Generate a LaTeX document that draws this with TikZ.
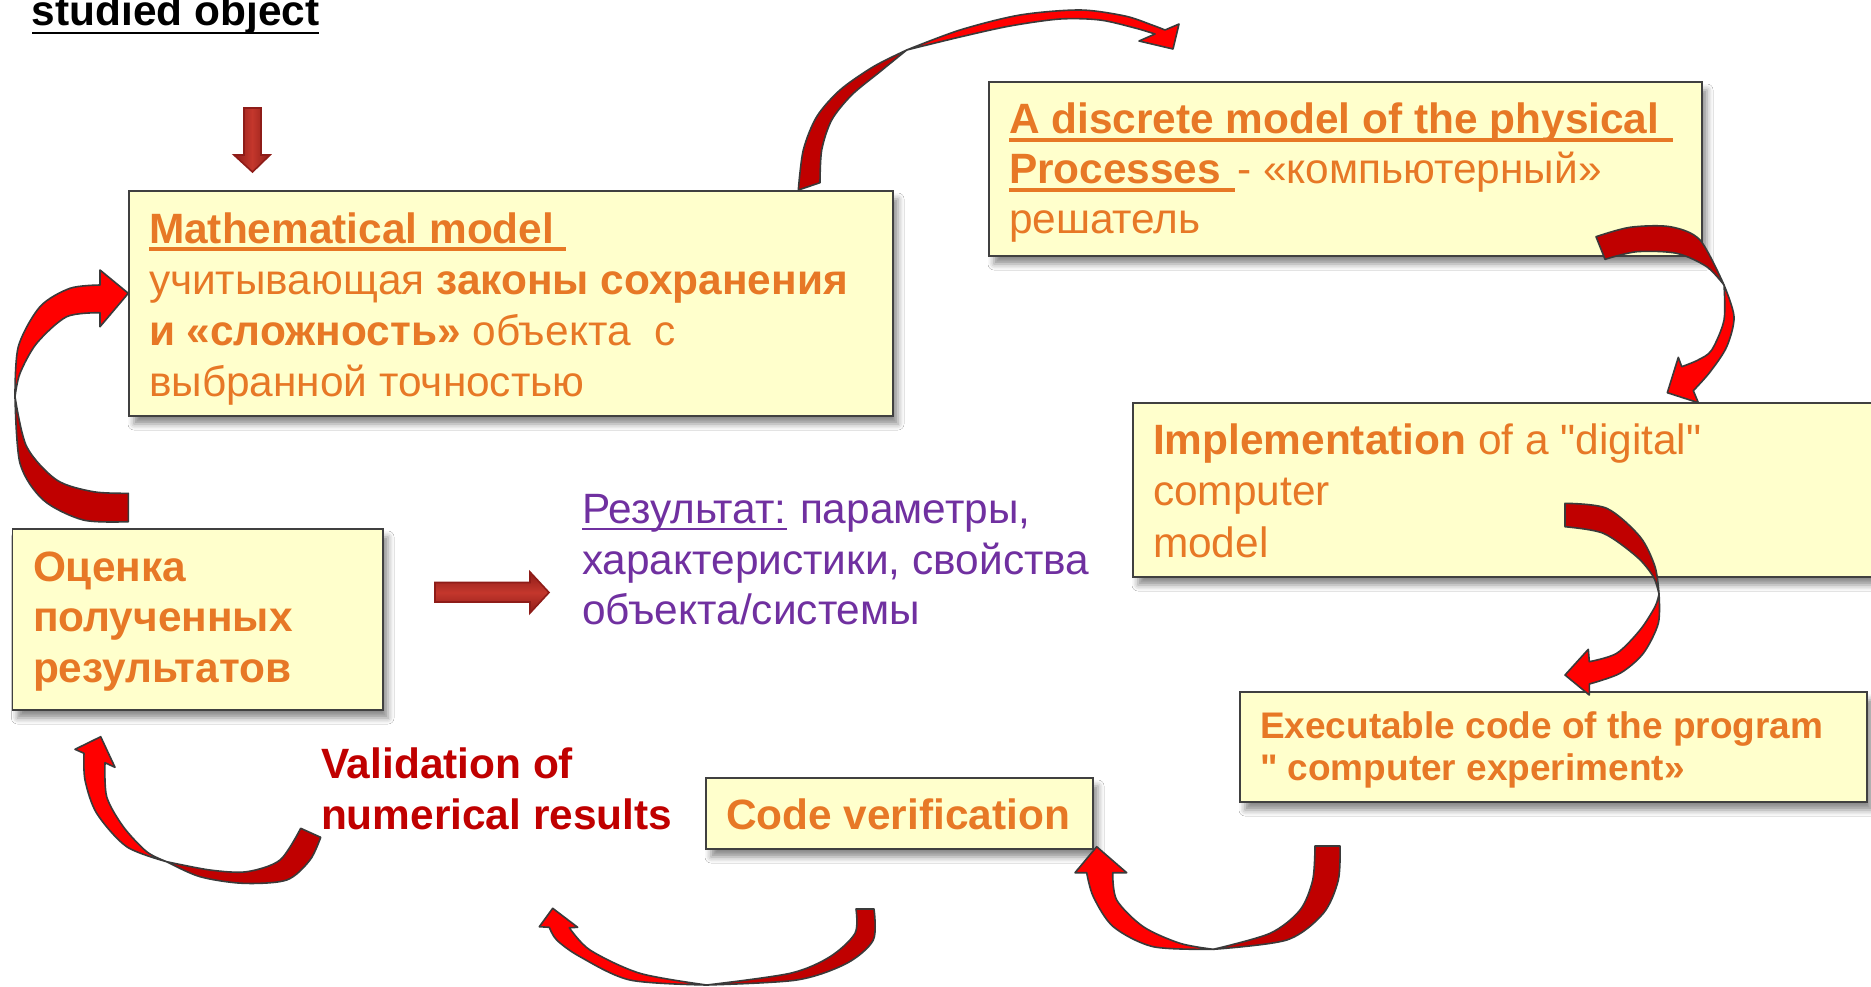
\documentclass[tikz,border=0pt]{standalone}
\usepackage{fontspec}
\setmainfont{Liberation Sans}[Ligatures=TeXOff]
\usetikzlibrary{fit,shadows.blur}
\definecolor{boxfill}{HTML}{FFFFCC}
\definecolor{boxline}{HTML}{404040}
\definecolor{txtor}{HTML}{E77826}
\definecolor{txtpu}{HTML}{7030A0}
\definecolor{txtrd}{HTML}{C00000}
\definecolor{arlight}{HTML}{FF0000}
\definecolor{ardark}{HTML}{C00000}
\definecolor{arline}{HTML}{3A3A3A}
\definecolor{blkdark}{HTML}{8E1C18}
\definecolor{blklight}{HTML}{C4372C}
\begin{document}
\begin{tikzpicture}[x=0.5pt,y=-0.5pt,
  box/.style={draw=boxline, line width=0.9pt, fill=boxfill, inner sep=0pt,
    blur shadow={shadow xshift=2.5pt, shadow yshift=-4pt, shadow blur radius=3pt, shadow opacity=45}},
  big/.style={font=\fontsize{21.2pt}{25.5pt}\selectfont},
  small/.style={font=\fontsize{18.5pt}{21pt}\selectfont\bfseries},
  txt/.style={anchor=base west, inner sep=0pt, outer sep=0pt, big, text=txtor},
  ardk/.style={fill=ardark, draw=arline, line width=0.8pt, line join=round},
  arlt/.style={fill=arlight, draw=arline, line width=0.8pt, line join=round},
  blk/.style={draw=blkdark, line width=0.8pt},
]
\useasboundingbox (0,0) rectangle (1871,986);
\fill[white] (0,0) rectangle (1871,986);

% ---------- boxes ----------
\node[box, fit={(129,191) (893,416)}] (mathbox) {};
\node[box, fit={(989,82) (1702,256)}] (discbox) {};
\node[box, fit={(1133,403) (1895,577)}] (implbox) {};
\node[box, fit={(1240,692) (1867,802)}] (execbox) {};
\node[box, fit={(12.5,529) (383,710)}] (evalbox) {};
\node[box, fit={(706,778) (1093,849)}] (verbox) {};

% ---------- title ----------
\node[txt, text=black, font=\fontsize{21.2pt}{25.5pt}\selectfont\bfseries] (title) at (32,25) {studied object};
\draw[black, line width=1.3pt] ([yshift=-4pt]title.base west) -- ([yshift=-4pt]title.base east);

% ---------- block arrows ----------
\path[blk, shade, left color=blkdark, right color=blkdark, middle color=blklight]
  (244,108) -- (261,108) -- (261,155) -- (270,155) -- (252.5,172) -- (234,155) -- (244,155) -- cycle;
\path[blk, shade, top color=blkdark, bottom color=blkdark, middle color=blklight]
  (435,582.5) -- (530,582.5) -- (530,572) -- (549,592.5) -- (530,613) -- (530,602) -- (435,602) -- cycle;

% ---------- texts: math model ----------
\node[txt, font=\fontsize{21.2pt}{25.5pt}\selectfont\bfseries] (m1) at (149,243) {Mathematical model};
\draw[txtor, line width=1.7pt] ([yshift=-3pt]m1.base west) -- ([xshift=6pt,yshift=-3pt]m1.base east);
\node[txt] (m2) at (149,294) {учитывающая \textbf{законы сохранения}};
\node[txt] (m3) at (149,345) {\textbf{и «сложность»} объекта\ \ с};
\node[txt] (m4) at (149,396) {выбранной точностью};

% ---------- discrete model ----------
\node[txt, font=\fontsize{21.2pt}{25.5pt}\selectfont\bfseries] (d1) at (1009,133) {A discrete model of the physical};
\draw[txtor, line width=1.7pt] ([yshift=-3.5pt]d1.base west) -- ([xshift=7pt,yshift=-3.5pt]d1.base east);
\node[txt, font=\fontsize{21.2pt}{25.5pt}\selectfont\bfseries] (d2a) at (1009,183) {Processes};
\draw[txtor, line width=1.7pt] ([yshift=-3.5pt]d2a.base west) -- ([xshift=7pt,yshift=-3.5pt]d2a.base east);
\node[txt, anchor=base west] (d2b) at ([xshift=8pt]d2a.base east) {- «компьютерный»};
\node[txt] (d3) at (1009,233) {решатель};

% ---------- implementation ----------
\node[txt] (i1) at (1153,454) {\textbf{Implementation} of a "digital"};
\node[txt] (i2) at (1153,505) {computer};
\node[txt] (i3) at (1153,557) {model};

% ---------- executable ----------
\node[txt, small] (e1) at (1260,738) {Executable code of the program};
\node[txt, small] (e2) at (1260,780) {" computer experiment»};

% ---------- evaluation ----------
\node[txt, font=\fontsize{21.2pt}{25.5pt}\selectfont\bfseries] (o1) at (33,581) {Оценка};
\node[txt, font=\fontsize{21.2pt}{25.5pt}\selectfont\bfseries] (o2) at (33,631) {полученных};
\node[txt, font=\fontsize{21.2pt}{25.5pt}\selectfont\bfseries] (o3) at (33,682) {результатов};

% ---------- result ----------
\node[txt, text=txtpu] (r1a) at (582,523) {Результат:};
\draw[txtpu, line width=1pt] ([yshift=-3pt]r1a.base west) -- ([yshift=-3pt]r1a.base east);
\node[txt, text=txtpu] (r1b) at (800,523) {параметры,};
\node[txt, text=txtpu] (r2) at (582,574) {характеристики, свойства};
\node[txt, text=txtpu] (r3) at (582,624) {объекта/системы};

% ---------- validation ----------
\node[txt, text=txtrd, font=\fontsize{21.2pt}{25.5pt}\selectfont\bfseries] (v1) at (321,778) {Validation of};
\node[txt, text=txtrd, font=\fontsize{21.2pt}{25.5pt}\selectfont\bfseries] (v2) at (321,829) {numerical results};

% ---------- code verification ----------
\node[txt, font=\fontsize{21.2pt}{25.5pt}\selectfont\bfseries] (c1) at (726,829) {Code verification};

% ---------- curved arrows ----------
% 1: math model -> discrete model
\path[ardk] plot[smooth] coordinates {(798.3,190) (803.3,150) (816.7,116.7) (840,90) (873.3,66.7) (906.7,50)}
  -- plot[smooth] coordinates {(906.7,50) (880,71.7) (851.7,95) (831.7,120) (821.7,150) (820,182.7)} -- cycle;
\path[arlt] plot[smooth] coordinates {(906.7,50) (960,30) (1020,15) (1080,10) (1125,16) (1152,25) (1165,30)}
  -- (1179,24) -- (1173,49) -- (1139,41) -- (1155,34)
  -- plot[smooth] coordinates {(1155,34) (1135,28) (1100,20) (1060,19) (1010,26) (960,37) (906.7,50)} -- cycle;

% 2: discrete -> implementation
\path[ardk] plot[smooth] coordinates {(1596,236.7) (1630,227.3) (1670,226.7) (1700,240) (1724,285)}
  -- plot[smooth] coordinates {(1724,285) (1706.7,266.7) (1676.7,253.3) (1636.7,251.7) (1605,259.3)} -- cycle;
\path[arlt] plot[smooth] coordinates {(1724,285) (1734,316.7) (1726.7,346.7) (1710,372) (1693.3,390.7)}
  -- (1698.3,402.7) -- (1667.3,392.7) -- (1678.3,357.3) -- (1681.7,366.7)
  -- plot[smooth] coordinates {(1681.7,366.7) (1698,360) (1711.7,350) (1724,320) (1724,285)} -- cycle;

% 3: implementation -> executable
\path[ardk] plot[smooth] coordinates {(1565,503.3) (1606.7,508.3) (1640,536.7) (1655,566.7) (1659,594)}
  -- plot[smooth] coordinates {(1659,594) (1653.3,576.7) (1636.7,556.7) (1603.3,533.3) (1565,526.7)} -- cycle;
\path[arlt] plot[smooth] coordinates {(1659,594) (1658.3,623.3) (1643.3,653.3) (1620,673.3) (1589.3,684)}
  -- (1589.3,695) -- (1565,675) -- (1588.3,649.3) -- (1589.3,661.7)
  -- plot[smooth] coordinates {(1589.3,661.7) (1616.7,653.3) (1640,630) (1655,606.7) (1659,594)} -- cycle;

% 4: executable -> code verification
\path[ardk] plot[smooth] coordinates {(1340,846) (1338.3,880) (1323.3,913.3) (1286.7,940) (1213.3,949.3)}
  -- plot[smooth] coordinates {(1213.3,949.3) (1270,933.3) (1300,910) (1312.7,880) (1315,846)} -- cycle;
\path[arlt] plot[smooth] coordinates {(1213.3,949.3) (1153.3,946.7) (1113.3,926.7) (1093.3,896.7) (1086.7,872.7)}
  -- (1075,872.7) -- (1096.7,846.7) -- (1126.7,872.7) -- (1112.7,872.7)
  -- plot[smooth] coordinates {(1112.7,872.7) (1116.7,900) (1143.3,926.7) (1180,943.3) (1213.3,949.3)} -- cycle;

% 5: bottom middle
\path[ardk] plot[smooth] coordinates {(874,909) (873.3,940) (846.7,963.3) (796.7,980) (706.7,985)}
  -- plot[smooth] coordinates {(706.7,985) (790,973.3) (830,956.7) (855,933.3) (856,909)} -- cycle;
\path[arlt] plot[smooth] coordinates {(706.7,985) (630,980) (580,956.7) (556.7,940) (549.3,927.3)}
  -- (539.3,926.7) -- (552.7,908.3) -- (577.7,927.3) -- (569.3,927.7)
  -- plot[smooth] coordinates {(569.3,927.7) (590,950) (640,973.3) (706.7,985)} -- cycle;

% 6: validation -> evaluation
\path[ardk] plot[smooth] coordinates {(320.7,837.3) (310,860) (286.7,880) (243.3,883.3) (200,876.7) (166.7,861.7)}
  -- plot[smooth] coordinates {(166.7,861.7) (210,870) (246.7,871.7) (280,860) (300.7,828.3)} -- cycle;
\path[arlt] plot[smooth] coordinates {(166.7,861.7) (126.7,846.7) (96.7,813.3) (85,780) (84,753.3)}
  -- (75,749.3) -- (100.7,736.7) -- (115,767.3) -- (105,762.7)
  -- plot[smooth] coordinates {(105,762.7) (106.7,796.7) (123.3,826.7) (146.7,851.7) (166.7,861.7)} -- cycle;

% 7: evaluation -> math model
\path[ardk] plot[smooth] coordinates {(128.3,521.7) (83.3,520) (43.3,500) (20,463.3) (15,396.7)}
  -- plot[smooth] coordinates {(15,396.7) (26.7,446.7) (56.7,480) (93.3,491.7) (128.3,493.3)} -- cycle;
\path[arlt] plot[smooth] coordinates {(15,396.7) (18.3,346.7) (40,306.7) (70,288.3) (100,285)}
  -- (100,270) -- (128.3,293.3) -- (100,326.7) -- (100,312.7)
  -- plot[smooth] coordinates {(100,312.7) (66.7,316.7) (36.7,343.3) (20,373.3) (15,396.7)} -- cycle;
\end{tikzpicture}
\end{document}
